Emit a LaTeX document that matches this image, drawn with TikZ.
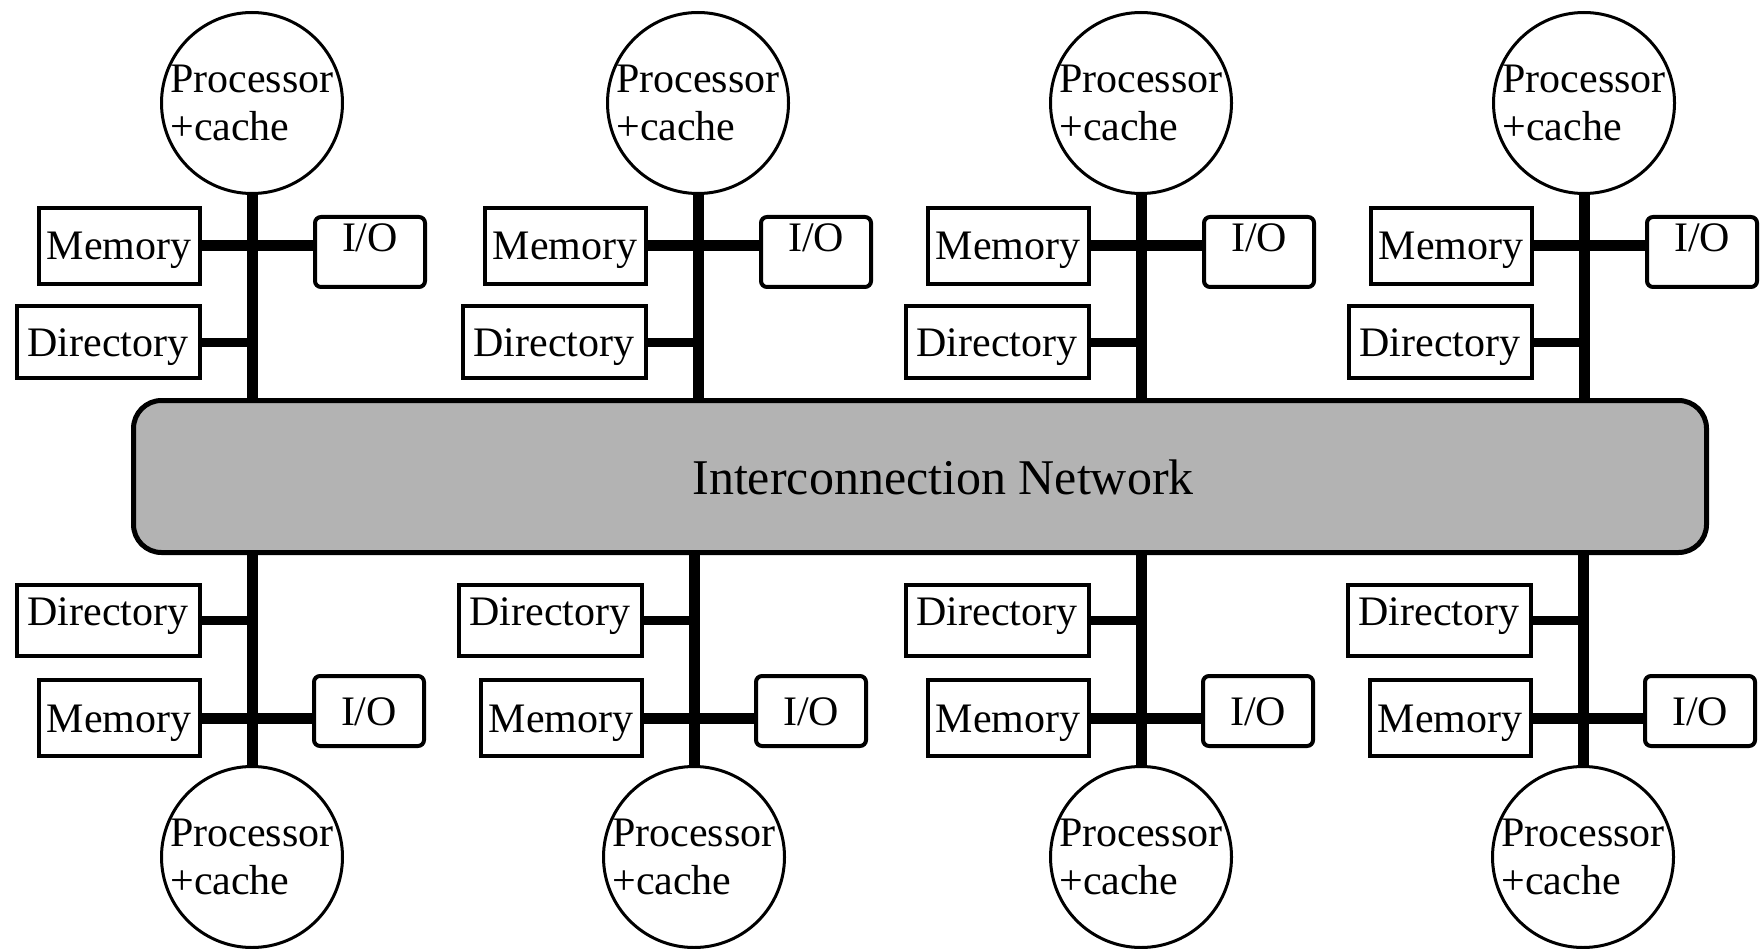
\documentclass[tikz,border=0pt]{standalone}
\usepackage{fontspec}
\setmainfont{Liberation Serif}
\usetikzlibrary{backgrounds}
\definecolor{netgray}{RGB}{179,179,179}

\begin{document}
\begin{tikzpicture}
    [x=1pt, y=-1pt,
    every node/.style={font=\fontsize{42}{48}\selectfont},
    procnode/.style={circle, draw, line width=3pt, minimum size=181pt, inner sep=0pt, align=left},
    unitbox/.style={rectangle, draw, line width=4pt, inner sep=0pt, text height=28pt, text depth=0pt},
    membox/.style={unitbox, minimum width=161pt, minimum height=76pt},
    dirbox/.style={unitbox, minimum width=183pt, minimum height=71pt},
    iobox/.style={unitbox, rounded corners=6pt, minimum width=110pt, minimum height=70pt},
    netbox/.style={rectangle, draw, line width=5pt, rounded corners=28pt, fill=netgray,
        minimum width=1573pt, minimum height=152pt},
    busline/.style={line width=11pt},
    dirline/.style={line width=9pt}
    ]
    \useasboundingbox (0,0) rectangle (1760,949);

    \node (net) [netbox] at (920,476.5) {};
    \node (netlabel) [anchor=base, font=\fontsize{50}{60}\selectfont] at (943,494) {Interconnection Network};

    % upper row
    \node (proc1) [procnode] at (252,103) {Processor\\+cache};
    \node (mem1) [membox] at (119,246) {Memory};
    \node (io1) [iobox, text depth=28pt] at (370,252) {I/O};
    \node (dir1) [dirbox] at (108,342) {Directory};

    \node (proc2) [procnode] at (698,103) {Processor\\+cache};
    \node (mem2) [membox] at (565,246) {Memory};
    \node (io2) [iobox, text depth=28pt] at (816,252) {I/O};
    \node (dir2) [dirbox] at (554,342) {Directory};

    \node (proc3) [procnode] at (1141,103) {Processor\\+cache};
    \node (mem3) [membox] at (1008,246) {Memory};
    \node (io3) [iobox, text depth=28pt] at (1259,252) {I/O};
    \node (dir3) [dirbox] at (997,342) {Directory};

    \node (proc4) [procnode] at (1584,103) {Processor\\+cache};
    \node (mem4) [membox] at (1451,246) {Memory};
    \node (io4) [iobox, text depth=28pt] at (1702,252) {I/O};
    \node (dir4) [dirbox] at (1440,342) {Directory};

    % lower row
    \node (dir5) [dirbox, text depth=18pt] at (108,620) {Directory};
    \node (mem5) [membox] at (119,718) {Memory};
    \node (io5) [iobox] at (369,711) {I/O};
    \node (proc5) [procnode] at (252,857) {Processor\\+cache};

    \node (dir6) [dirbox, text depth=18pt] at (550,620) {Directory};
    \node (mem6) [membox] at (561,718) {Memory};
    \node (io6) [iobox] at (811,711) {I/O};
    \node (proc6) [procnode] at (694,857) {Processor\\+cache};

    \node (dir7) [dirbox, text depth=18pt] at (997,620) {Directory};
    \node (mem7) [membox] at (1008,718) {Memory};
    \node (io7) [iobox] at (1258,711) {I/O};
    \node (proc7) [procnode] at (1141,857) {Processor\\+cache};

    \node (dir8) [dirbox, text depth=18pt] at (1439,620) {Directory};
    \node (mem8) [membox] at (1450,718) {Memory};
    \node (io8) [iobox] at (1700,711) {I/O};
    \node (proc8) [procnode] at (1583,857) {Processor\\+cache};

    \begin{scope}[on background layer]
        \draw[busline] (proc1.south) -- (proc1.south |- net.north);
        \draw[busline] (mem1.east) -- (mem1.east -| io1.west);
        \draw[dirline] (dir1.east) -- (dir1.east -| proc1.south);
        \draw[busline] (proc2.south) -- (proc2.south |- net.north);
        \draw[busline] (mem2.east) -- (mem2.east -| io2.west);
        \draw[dirline] (dir2.east) -- (dir2.east -| proc2.south);
        \draw[busline] (proc3.south) -- (proc3.south |- net.north);
        \draw[busline] (mem3.east) -- (mem3.east -| io3.west);
        \draw[dirline] (dir3.east) -- (dir3.east -| proc3.south);
        \draw[busline] (proc4.south) -- (proc4.south |- net.north);
        \draw[busline] (mem4.east) -- (mem4.east -| io4.west);
        \draw[dirline] (dir4.east) -- (dir4.east -| proc4.south);

        \draw[busline] (proc5.north) -- (proc5.north |- net.south);
        \draw[busline] (mem5.east) -- (mem5.east -| io5.west);
        \draw[dirline] (dir5.east) -- (dir5.east -| proc5.north);
        \draw[busline] (proc6.north) -- (proc6.north |- net.south);
        \draw[busline] (mem6.east) -- (mem6.east -| io6.west);
        \draw[dirline] (dir6.east) -- (dir6.east -| proc6.north);
        \draw[busline] (proc7.north) -- (proc7.north |- net.south);
        \draw[busline] (mem7.east) -- (mem7.east -| io7.west);
        \draw[dirline] (dir7.east) -- (dir7.east -| proc7.north);
        \draw[busline] (proc8.north) -- (proc8.north |- net.south);
        \draw[busline] (mem8.east) -- (mem8.east -| io8.west);
        \draw[dirline] (dir8.east) -- (dir8.east -| proc8.north);
    \end{scope}
\end{tikzpicture}
\end{document}
